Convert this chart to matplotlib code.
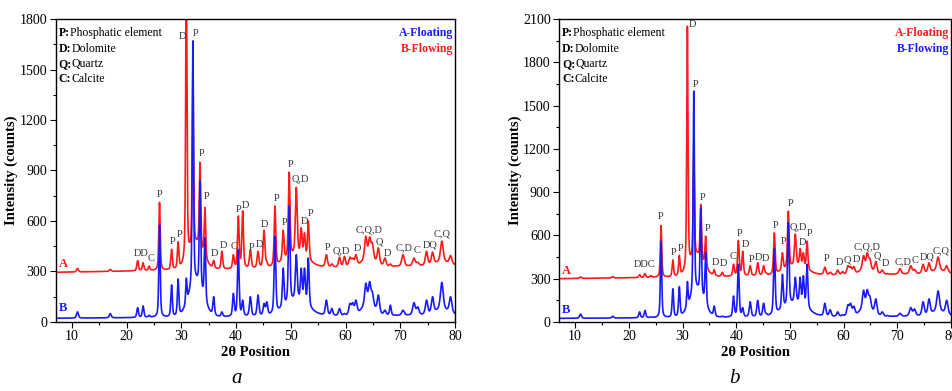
import numpy as np
import matplotlib
matplotlib.use('Agg')
import matplotlib.pyplot as plt
from matplotlib.ticker import MultipleLocator

plt.rcParams['font.family'] = ['Liberation Serif', 'DejaVu Serif']

# ---------------- data ----------------
peak_pos = [11.0, 17.0, 22.0, 23.0, 24.1, 26.0, 28.2, 29.4, 30.9, 32.1, 33.4, 34.3,
            35.9, 37.4, 39.5, 40.4, 41.2, 42.6, 44.0, 45.1, 45.6, 47.1, 48.6, 49.7,
            51.0, 51.9, 52.5, 53.2, 56.5, 57.5, 58.9, 59.8, 60.8, 61.3, 61.9, 63.7,
            64.4, 64.9, 66.0, 67.2, 68.2, 70.5, 72.5, 73.2, 74.8, 75.9, 77.6, 79.2]
peak_fwhm = [0.4, 0.4, 0.35, 0.35, 0.35, 0.3, 0.32, 0.32, 0.28, 0.28, 0.3, 0.3,
             0.35, 0.35, 0.35, 0.35, 0.35, 0.4, 0.4, 0.4, 0.4, 0.35, 0.35, 0.35,
             0.4, 0.35, 0.35, 0.35, 0.45, 0.45, 0.45, 0.45, 0.5, 0.5, 0.5, 0.5,
             0.5, 0.5, 0.5, 0.5, 0.35, 0.55, 0.55, 0.55, 0.5, 0.5, 0.6, 0.55]

# panel a apex intensities (counts)
a_floating_top = [60, 50, 85, 95, 40, 575, 220, 255, 260, 1670, 840, 500,
                  150, 60, 170, 430, 130, 150, 160, 110, 120, 510, 320, 690,
                  400, 320, 320, 380, 130, 80, 80, 50, 110, 115, 130, 230,
                  240, 180, 160, 70, 100, 70, 115, 90, 130, 150, 235, 150]
a_flowing_top = [318, 312, 365, 352, 332, 711, 432, 477, 2100, 1500, 950, 680,
                 365, 420, 400, 630, 660, 430, 420, 545, 360, 690, 545, 890,
                 800, 560, 530, 600, 400, 345, 385, 390, 385, 380, 400, 510,
                 505, 470, 440, 380, 345, 400, 380, 355, 420, 415, 480, 395]
# panel b apex intensities (counts)
b_floating_top = [312, 315, 328, 335, 322, 668, 430, 462, 2050, 1200, 815, 595,
                  362, 345, 400, 565, 490, 390, 410, 390, 340, 618, 480, 768,
                  610, 510, 480, 560, 380, 345, 360, 350, 390, 385, 385, 460,
                  480, 440, 420, 360, 335, 370, 390, 365, 400, 410, 450, 390]
b_flowing_top = [55, 40, 70, 80, 35, 560, 230, 245, 280, 1600, 790, 480,
                 110, 40, 180, 400, 100, 140, 150, 130, 60, 510, 330, 690,
                 310, 310, 320, 400, 130, 85, 70, 50, 120, 130, 110, 220,
                 225, 180, 160, 70, 45, 60, 100, 90, 140, 160, 215, 150]

# broad amorphous humps under the peak clusters
hump_pos = [32.7, 51.0, 64.2, 77.6]
hump_fwhm = [3.0, 5.0, 2.5, 3.0]
a_floating_hump = [200, 90, 70, 30]
a_flowing_hump = [140, 70, 50, 20]
b_floating_hump = [140, 60, 40, 20]
b_flowing_hump = [180, 90, 60, 30]

# background level at 7 deg and 80 deg
a_floating_bg = (22, 40)
a_flowing_bg = (295, 335)
b_floating_bg = (300, 335)
b_flowing_bg = (25, 40)

# phase labels: (2theta, counts, text)
a_lab_x = [22.6, 24.4, 26.1, 28.3, 29.6, 30.2, 32.6, 33.7, 34.6, 36.1, 37.7,
           39.7, 40.4, 41.7, 42.8, 44.2, 45.2, 47.4, 48.8, 50.0, 51.7, 52.4, 53.6,
           56.8, 59.3, 62.2, 64.3, 66.1, 67.6, 70.7, 73.0, 75.5, 77.7]
a_lab_y = [408, 375, 760, 477, 521, 1695, 1715, 998, 744, 408, 457,
           451, 669, 695, 443, 463, 582, 735, 590, 938, 849, 596, 646,
           443, 424, 438, 546, 477, 408, 438, 424, 457, 523]
a_lab_t = ['DD', 'C', 'P', 'P', 'P', 'D', 'P', 'P', 'P', 'D', 'D',
           'C', 'P', 'D', 'P', 'D', 'D', 'P', 'P', 'P', 'Q,D', 'D', 'P',
           'P', 'Q,D', 'D', 'C,Q,D', 'Q', 'D', 'C,D', 'C', 'DQ', 'C,Q']

b_lab_x = [23.0, 26.0, 28.35, 29.6, 31.9, 32.5, 33.65, 34.6, 36.1, 37.7,
           39.5, 40.6, 41.7, 42.8, 44.1, 45.5, 47.4, 48.8, 50.2, 51.5, 52.3, 53.7,
           56.8, 59.3, 60.7, 62.4, 64.4, 66.3, 67.7, 71.1, 73.3, 75.6, 78.2]
b_lab_y = [395, 730, 480, 510, 2065, 1647, 864, 649, 414, 402,
           453, 610, 534, 430, 448, 441, 672, 557, 822, 661, 550, 614,
           441, 414, 430, 430, 522, 457, 402, 418, 425, 447, 494]
b_lab_t = ['DDC', 'P', 'P', 'P', 'D', 'P', 'P', 'P', 'D', 'D',
           'C', 'P', 'D', 'P', 'D', 'D', 'P', 'P', 'P', 'Q,D', 'D', 'P',
           'P', 'D', 'Q', 'D', 'C,Q,D', 'Q', 'D', 'C,D', 'C', 'DQ', 'C,Q']

legend_keys = ['P:', 'D:', 'Q:', 'C:']
legend_names = ['Phosphatic element', 'Dolomite', 'Quartz', 'Calcite']

RED = '#ff1a1a'
BLUE = '#1a1aff'

# ---------------- helpers ----------------
x = np.arange(7.0, 80.0001, 0.01)


def pv(xx, c, w, eta=0.5):
    d = (xx - c) / w
    return eta / (1 + 4 * d ** 2) + (1 - eta) * np.exp(-4 * np.log(2) * d ** 2)


def pattern(tops, humps, bg):
    p = np.array(peak_pos)
    w = np.array(peak_fwhm)
    base = lambda xx: bg[0] + (bg[1] - bg[0]) * (xx - 7.0) / 73.0
    hump = lambda xx: sum(h * pv(xx, c, hw, eta=0.0)
                          for c, hw, h in zip(hump_pos, hump_fwhm, humps))
    target = np.array(tops) - base(p) - hump(p)
    M = np.array([[pv(pi, pj, wj) for pj, wj in zip(p, w)] for pi in p])
    amp = np.clip(np.linalg.solve(M, target), 0, None)
    y = base(x) + hump(x)
    for c, ww, a in zip(p, w, amp):
        y = y + a * pv(x, c, ww)
    return y


fig = plt.figure(figsize=(9.53, 3.91), dpi=100)

panels = [
    dict(rect=[0.0583, 0.1765, 0.4191, 0.7749], ymax=1800,
         curves=[(a_flowing_top, a_flowing_hump, a_flowing_bg, RED),
                 (a_floating_top, a_floating_hump, a_floating_bg, BLUE)],
         labs=(a_lab_x, a_lab_y, a_lab_t), leg_colors=(BLUE, RED),
         A_y=345, B_y=83, sub='a', sub_x=0.248),
    dict(rect=[0.5866, 0.1765, 0.4113, 0.7749], ymax=2100,
         curves=[(b_floating_top, b_floating_hump, b_floating_bg, RED),
                 (b_flowing_top, b_flowing_hump, b_flowing_bg, BLUE)],
         labs=(b_lab_x, b_lab_y, b_lab_t), leg_colors=(RED, BLUE),
         A_y=353, B_y=83, sub='b', sub_x=0.771),
]

for P in panels:
    ax = fig.add_axes(P['rect'])
    for tops, humps, bg, col in P['curves']:
        ax.plot(x, pattern(tops, humps, bg), color=col, lw=1.2)
    ax.set_xlim(7, 80)
    ax.set_ylim(0, P['ymax'])
    ax.xaxis.set_major_locator(MultipleLocator(10))
    ax.xaxis.set_minor_locator(MultipleLocator(5))
    ax.yaxis.set_major_locator(MultipleLocator(300))
    ax.yaxis.set_minor_locator(MultipleLocator(150))
    ax.tick_params(which='major', direction='out', length=4, width=0.8,
                   labelsize=10, pad=2)
    ax.tick_params(which='minor', direction='out', length=2.5, width=0.8)
    for s in ax.spines.values():
        s.set_linewidth(1.0)
    ax.set_xlabel('2θ Position', fontsize=10.5, fontweight='bold', labelpad=2)
    ax.set_ylabel('Intensity (counts)', fontsize=10.5, fontweight='bold', labelpad=1)

    lx, ly, lt = P['labs']
    for xi, yi, ti in zip(lx, ly, lt):
        ax.text(xi, yi, ti, fontsize=7.5, ha='center', va='center', color='#333333')

    # phase key
    for i, (k, n) in enumerate(zip(legend_keys, legend_names)):
        t = ax.text(0.008, 0.972 - i * 0.05, k, transform=ax.transAxes,
                    fontsize=8.5, fontweight='bold', ha='left', va='top')
        ax.annotate(n, xy=(1, 0), xycoords=t, fontsize=8.5, ha='left', va='bottom')

    c1, c2 = P['leg_colors']
    ax.text(0.995, 0.972, 'A-Floating', transform=ax.transAxes, fontsize=8.5,
            fontweight='bold', color=c1, ha='right', va='top')
    ax.text(0.995, 0.922, 'B-Flowing', transform=ax.transAxes, fontsize=8.5,
            fontweight='bold', color=c2, ha='right', va='top')

    ax.text(7.6, P['A_y'], 'A', color=RED, fontsize=9, fontweight='bold',
            ha='left', va='center')
    ax.text(7.6, P['B_y'], 'B', color=BLUE, fontsize=9, fontweight='bold',
            ha='left', va='center')

    fig.text(P['sub_x'], 0.032, P['sub'], fontsize=15, style='italic',
             ha='center', va='center')

fig.savefig('out.png', dpi=100)
